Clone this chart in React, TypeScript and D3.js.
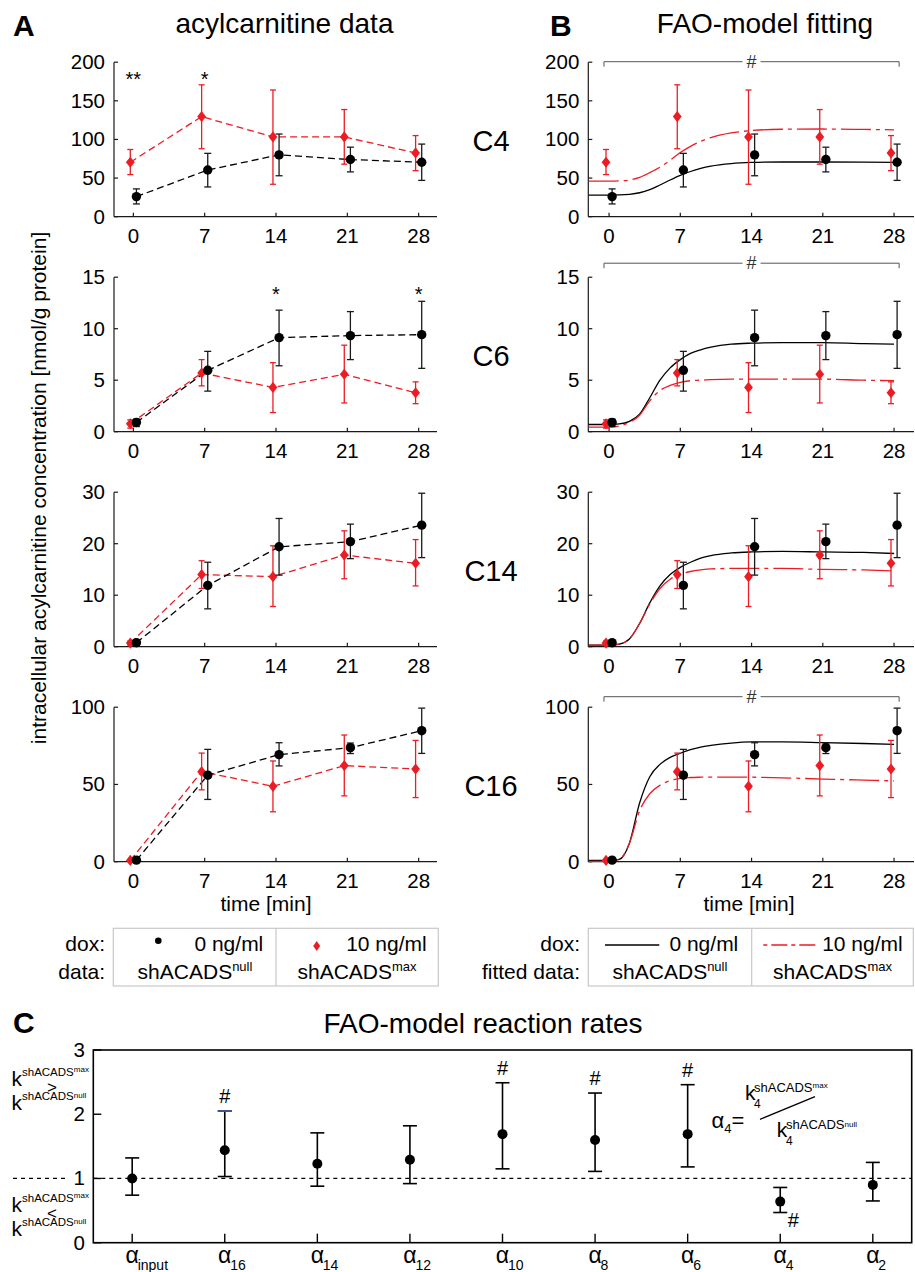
import React from 'react';
import * as d3 from 'd3';

const FONT = '"Liberation Sans", Arial, Helvetica, sans-serif';
const RED = '#ec1c24';
const INK = '#1a1a1a';

// sampling times [min]
const times = [0, 7, 14, 21, 28];
const xTicks = [0, 7, 14, 21, 28];
const species = ['C4', 'C6', 'C14', 'C16'];
const yTicks = [[0, 50, 100, 150, 200], [0, 5, 10, 15], [0, 10, 20, 30], [0, 50, 100]];

// shACADS null (dox 0 ng/ml): mean, lower and upper error
const c4Null = [26, 60.5, 80, 74, 70.5];
const c4NullLo = [16.5, 38.5, 53, 58, 47];
const c4NullHi = [36, 82, 107, 90, 94];
const c6Null = [0.9, 5.96, 9.13, 9.33, 9.42];
const c6NullLo = [0.5, 3.94, 6.4, 7.0, 6.15];
const c6NullHi = [1.22, 7.8, 11.8, 11.66, 12.66];
const c14Null = [0.78, 11.9, 19.4, 20.4, 23.6];
const c14NullLo = [0.4, 7.35, 13.9, 17.1, 17.3];
const c14NullHi = [1.1, 16.4, 24.9, 23.8, 29.8];
const c16Null = [1.0, 56, 69.3, 73.8, 84.8];
const c16NullLo = [0.3, 40.3, 62, 70, 70.1];
const c16NullHi = [1.7, 72.7, 77, 76.8, 99.4];

// shACADS max (dox 10 ng/ml)
const c4Max = [70.5, 129.6, 103.3, 103.3, 82.5];
const c4MaxLo = [54.5, 88, 42, 68, 59.6];
const c4MaxHi = [87, 170.7, 164, 138.7, 105];
const c6Max = [0.77, 5.7, 4.3, 5.58, 3.78];
const c6MaxLo = [0.35, 4.45, 1.86, 2.79, 2.72];
const c6MaxHi = [1.15, 7.0, 6.7, 8.4, 4.84];
const c14Max = [0.7, 14.0, 13.6, 17.8, 16.2];
const c14MaxLo = [0.3, 11.3, 7.8, 13.2, 11.8];
const c14MaxHi = [1.1, 16.7, 19.6, 22.5, 20.8];
const c16Max = [0.8, 58.3, 48.8, 62.2, 60];
const c16MaxLo = [0.2, 46.5, 32.3, 42.6, 41.5];
const c16MaxHi = [1.4, 70.3, 65.2, 82, 78.5];

// significance marks in panel A
const c4Stars = [{ t: 0, s: '**' }, { t: 7, s: '*' }];
const c6Stars = [{ t: 14, s: '*' }, { t: 28, s: '*' }];

// fitted model curves (panel B)
const fitTimes = [-2, 0, 1, 2, 3, 4, 5, 6, 7, 8, 9, 10, 12, 14, 17, 21, 25, 28];
const c4FitNull = [28, 28, 28.2, 29, 31, 35, 41, 47.5, 53.5, 58.5, 62.5, 65.5, 68.8, 70.2, 70.8, 70.8, 70.6, 70.3];
const c4FitMax = [46, 46, 46.3, 47.5, 51, 57, 64, 73, 83, 91, 97.5, 102.5, 108.5, 111.5, 113.2, 113.5, 113, 112.5];
const c6FitNull = [0.7, 0.7, 0.75, 1.0, 1.7, 3.3, 5.0, 6.2, 7.0, 7.6, 7.95, 8.2, 8.5, 8.6, 8.65, 8.65, 8.55, 8.5];
const c6FitMax = [0.45, 0.45, 0.55, 0.9, 1.6, 3.0, 4.0, 4.5, 4.8, 4.95, 5.0, 5.05, 5.1, 5.1, 5.1, 5.1, 5.0, 4.95];
const c14FitNull = [0.3, 0.3, 0.5, 1.5, 4.5, 8.5, 11.8, 14, 15.4, 16.4, 17.2, 17.7, 18.2, 18.4, 18.5, 18.4, 18.3, 18.1];
const c14FitMax = [0.3, 0.3, 0.5, 1.5, 4.5, 8.3, 11.3, 13.1, 14.1, 14.6, 14.9, 15.1, 15.2, 15.2, 15.2, 15.0, 14.9, 14.7];
const c16FitNull = [0.8, 0.8, 1.5, 12, 38, 55, 63, 67.5, 70.2, 72.5, 74.2, 75.3, 76.8, 77.5, 77.6, 77.1, 76.5, 76];
const c16FitMax = [0.2, 0.3, 1.5, 12, 33, 44, 49.5, 52.5, 54, 54.5, 54.7, 54.8, 54.8, 54.7, 54.3, 53.5, 52.8, 52.3];
const fitSignificant = [true, true, false, true];

// panel C: reaction rate ratios
const rateNames = ['input', '16', '14', '12', '10', '8', '6', '4', '2'];
const rateMean = [1.0, 1.44, 1.23, 1.29, 1.69, 1.6, 1.69, 0.64, 0.9];
const rateLo = [0.74, 1.03, 0.88, 0.92, 1.15, 1.11, 1.18, 0.47, 0.65];
const rateHi = [1.32, 2.05, 1.71, 1.82, 2.49, 2.33, 2.46, 0.86, 1.25];
const rateSig = ['', 'above', '', '', 'above', 'above', 'above', 'below', ''];
const rateTicks = [0, 1, 2, 3];

const panels = [
  { name: 'C4', nul: [c4Null, c4NullLo, c4NullHi], max: [c4Max, c4MaxLo, c4MaxHi], fit: [c4FitNull, c4FitMax], stars: c4Stars },
  { name: 'C6', nul: [c6Null, c6NullLo, c6NullHi], max: [c6Max, c6MaxLo, c6MaxHi], fit: [c6FitNull, c6FitMax], stars: c6Stars },
  { name: 'C14', nul: [c14Null, c14NullLo, c14NullHi], max: [c14Max, c14MaxLo, c14MaxHi], fit: [c14FitNull, c14FitMax], stars: [] },
  { name: 'C16', nul: [c16Null, c16NullLo, c16NullHi], max: [c16Max, c16MaxLo, c16MaxHi], fit: [c16FitNull, c16FitMax], stars: [] },
];

// layout
const OFFSET = 0.3; // horizontal nudge of the two groups
const bracketGap = [0.5, 14, 0, 10.5];
const DASHDOT = '30,5,4,5';

const diamond = (cx: number, cy: number, w = 4.4, h = 5.6) =>
  `M${cx},${cy - h}L${cx + w},${cy}L${cx},${cy + h}L${cx - w},${cy}Z`;

function ErrBar({ x, lo, hi, color, cap = 3.5, width = 1.3 }: any) {
  return (
    <g stroke={color} strokeWidth={width}>
      <line x1={x} x2={x} y1={lo} y2={hi} />
      <line x1={x - cap} x2={x + cap} y1={lo} y2={lo} />
      <line x1={x - cap} x2={x + cap} y1={hi} y2={hi} />
    </g>
  );
}

function TimePanel({ idx, side }: { idx: number; side: 'A' | 'B' }) {
  const p = panels[idx];
  const ticks = yTicks[idx];
  const bottom = 216.7 + 215 * idx;
  const top = bottom - 154.5;
  const x = side === 'A'
    ? d3.scaleLinear().domain([-1.9, 29.8]).range([114, 437])
    : d3.scaleLinear().domain([-2.04, 29.96]).range([588.3, 914]);
  const y = d3.scaleLinear().domain([0, ticks[ticks.length - 1]]).range([bottom, top]);
  const x0 = x.range()[0];
  const x1 = x.range()[1];

  const lineGen = (off: number) => d3.line<number>().x((_, i) => x(times[i] + off)).y(d => y(d));
  const fitGen = d3.line<number>().x((_, i) => x(fitTimes[i])).y(d => y(d)).curve(d3.curveMonotoneX);

  const showFit = side === 'B';
  const bracket = showFit && fitSignificant[idx];
  const by = top - bracketGap[idx];
  const bx0 = x(-0.5);
  const bx1 = x(28.5);
  const bxm = (bx0 + bx1) / 2;

  return (
    <g>
      {/* axes */}
      <g stroke={INK} strokeWidth={1.2} fill="none">
        <line x1={x0} x2={x0} y1={top} y2={bottom} />
        <line x1={x0} x2={x1} y1={bottom} y2={bottom} />
        {ticks.map(t => <line key={'y' + t} x1={x0} x2={x0 + 4} y1={y(t)} y2={y(t)} />)}
        {xTicks.map(t => <line key={'x' + t} x1={x(t)} x2={x(t)} y1={bottom} y2={bottom - 4} />)}
      </g>
      <g fontFamily={FONT} fontSize={20.5} fill="#000">
        {ticks.map(t => (
          <text key={'yl' + t} x={x0 - 9} y={y(t) + 7} textAnchor="end">{t}</text>
        ))}
        {xTicks.map(t => (
          <text key={'xl' + t} x={x(t)} y={bottom + 26} textAnchor="middle">{t}</text>
        ))}
      </g>

      {/* data lines (A) or fitted curves (B) */}
      {!showFit && (
        <g fill="none" strokeWidth={1.3} strokeDasharray="7,4">
          <path d={lineGen(-OFFSET)(p.max[0]) || ''} stroke={RED} />
          <path d={lineGen(OFFSET)(p.nul[0]) || ''} stroke="#000" />
        </g>
      )}
      {showFit && (
        <g fill="none" strokeWidth={1.3}>
          <path d={fitGen(p.fit[0]) || ''} stroke="#000" />
          <path d={fitGen(p.fit[1]) || ''} stroke={RED} strokeDasharray={DASHDOT} />
        </g>
      )}

      {/* red: shACADS max */}
      {times.map((t, i) => (
        <g key={'m' + i}>
          <ErrBar x={x(t - OFFSET)} lo={y(p.max[1][i])} hi={y(p.max[2][i])} color={RED} cap={3} />
          <path d={diamond(x(t - OFFSET), y(p.max[0][i]))} fill={RED} />
        </g>
      ))}
      {/* black: shACADS null */}
      {times.map((t, i) => (
        <g key={'n' + i}>
          <ErrBar x={x(t + OFFSET)} lo={y(p.nul[1][i])} hi={y(p.nul[2][i])} color={INK} cap={3.5} />
          <circle cx={x(t + OFFSET)} cy={y(p.nul[0][i])} r={4.7} fill="#000" />
        </g>
      ))}

      {!showFit && p.stars.map(s => (
        <text key={'s' + s.t} x={x(s.t)} y={top + 24} textAnchor="middle" fontFamily={FONT} fontSize={20}>{s.s}</text>
      ))}

      {bracket && (
        <g>
          <g stroke="#555" strokeWidth={1} fill="none">
            <path d={`M${bx0},${by + 5}V${by}H${bxm - 9}`} />
            <path d={`M${bxm + 9},${by}H${bx1}V${by + 5}`} />
          </g>
          <text x={bxm} y={by + 6} textAnchor="middle" fontFamily={FONT} fontSize={18} fill="#333">#</text>
        </g>
      )}

      {side === 'A' && (
        <text x={491} y={bottom - 66} textAnchor="middle" fontFamily={FONT} fontSize={29}>{p.name}</text>
      )}
    </g>
  );
}

function Legend({ side }: { side: 'A' | 'B' }) {
  const L = side === 'A'
    ? { x0: 113.3, mid: 276, x1: 438.3, lab: 105, row2: 'data:', c1: 195, c2: 357, t1: 263.3, t2: 426.7 }
    : { x0: 588.3, mid: 751.7, x1: 913.3, lab: 580, row2: 'fitted data:', c1: 670, c2: 832.5, t1: 738.3, t2: 902.7 };
  const y0 = 928.3;
  const y1 = 986;
  return (
    <g fontFamily={FONT} fontSize={21}>
      <rect x={L.x0} y={y0} width={L.x1 - L.x0} height={y1 - y0} fill="none" stroke="#c8c8c8" strokeWidth={1.2} />
      <line x1={L.mid} x2={L.mid} y1={y0} y2={y1} stroke="#c8c8c8" strokeWidth={1.2} />
      <text x={L.lab} y={951} textAnchor="end">dox:</text>
      <text x={L.lab} y={978.5} textAnchor="end">{L.row2}</text>
      <text x={L.t1} y={951} textAnchor="end">0 ng/ml</text>
      <text x={L.t2} y={951} textAnchor="end">10 ng/ml</text>
      <text x={L.c1} y={978.5} textAnchor="middle">shACADS<tspan fontSize={13} dy={-8}>null</tspan></text>
      <text x={L.c2} y={978.5} textAnchor="middle">shACADS<tspan fontSize={13} dy={-8}>max</tspan></text>
      {side === 'A' ? (
        <g>
          <circle cx={158.3} cy={940.7} r={3.3} fill="#000" />
          <path d={diamond(316.7, 946, 3.5, 5)} fill={RED} />
        </g>
      ) : (
        <g strokeWidth={1.3}>
          <line x1={605} x2={659.3} y1={945} y2={945} stroke="#000" />
          <line x1={763.3} x2={818.3} y1={945} y2={945} stroke={RED} strokeDasharray="4,4,16,4" />
        </g>
      )}
    </g>
  );
}

function RatePanel() {
  const left = 93.3, right = 911.7, top = 1050, bottom = 1242.7;
  const x = d3.scalePoint<string>().domain(rateNames).range([left, right]).padding(0.42);
  const y = d3.scaleLinear().domain([0, 3]).range([bottom, top]);
  return (
    <g fontFamily={FONT}>
      <text x={13} y={1033} fontSize={30} fontWeight="bold">C</text>
      <text x={483} y={1033} fontSize={28} textAnchor="middle">FAO-model reaction rates</text>

      <g stroke="#000" strokeWidth={1.3} strokeDasharray="4,4">
        <line x1={13} x2={68} y1={y(1)} y2={y(1)} />
        <line x1={left} x2={right} y1={y(1)} y2={y(1)} />
      </g>
      <rect x={left} y={top} width={right - left} height={bottom - top} fill="none" stroke="#000" strokeWidth={1.6} />
      <g stroke="#000" strokeWidth={1.4}>
        {rateTicks.map(t => <line key={'t' + t} x1={left} x2={left + 8} y1={y(t)} y2={y(t)} />)}
        {rateNames.map(n => <line key={'x' + n} x1={x(n)} x2={x(n)} y1={bottom} y2={bottom - 9} />)}
      </g>
      {rateTicks.map(t => (
        <text key={'l' + t} x={85} y={y(t) + 7} fontSize={20.5} textAnchor="end">{t}</text>
      ))}
      {rateNames.map(n => (
        <g key={'a' + n}>
          <text x={(x(n) as number)} y={1263} fontSize={23} textAnchor="middle">α</text>
          <text x={(x(n) as number) + 5.5} y={1270} fontSize={14}>{n}</text>
        </g>
      ))}

      {rateNames.map((n, i) => {
        const cx = x(n) as number;
        return (
          <g key={'r' + n}>
            <ErrBar x={cx} lo={y(rateLo[i])} hi={y(rateHi[i])} color="#000" cap={7} width={1.6} />
            {i === 1 && <line x1={cx - 7} x2={cx + 7} y1={y(rateHi[i])} y2={y(rateHi[i])} stroke="#3a5c9a" strokeWidth={1.8} />}
            <circle cx={cx} cy={y(rateMean[i])} r={5} fill="#000" />
            {rateSig[i] === 'above' && (
              <text x={cx} y={y(rateHi[i]) - 8} fontSize={20} textAnchor="middle">#</text>
            )}
            {rateSig[i] === 'below' && (
              <text x={cx + 13} y={y(rateLo[i]) + 14} fontSize={20} textAnchor="middle">#</text>
            )}
          </g>
        );
      })}

      {/* y-side annotations */}
      <g>
        <text x={11.5} y={1086} fontSize={21}>k<tspan fontSize={11.5} dy={-10}>shACADS</tspan><tspan fontSize={8} dy={-4}>max</tspan></text>
        <text x={52} y={1093} fontSize={17} textAnchor="middle">&gt;</text>
        <text x={11.5} y={1110} fontSize={21}>k<tspan fontSize={11.5} dy={-10}>shACADS</tspan><tspan fontSize={8} dy={-2}>null</tspan></text>
        <text x={11.5} y={1212} fontSize={21}>k<tspan fontSize={11.5} dy={-10}>shACADS</tspan><tspan fontSize={8} dy={-4}>max</tspan></text>
        <text x={52} y={1219} fontSize={17} textAnchor="middle">&lt;</text>
        <text x={11.5} y={1236} fontSize={21}>k<tspan fontSize={11.5} dy={-10}>shACADS</tspan><tspan fontSize={8} dy={-2}>null</tspan></text>
      </g>

      {/* alpha_4 definition */}
      <g>
        <text x={711.5} y={1128.3} fontSize={22}>α<tspan fontSize={13} dy={5}>4</tspan><tspan fontSize={22} dy={-5}>=</tspan></text>
        <text x={745} y={1100} fontSize={21}>k</text>
        <text x={754} y={1091.5} fontSize={13}>shACADS<tspan fontSize={8} dy={-4}>max</tspan></text>
        <text x={754} y={1108} fontSize={12}>4</text>
        <line x1={760} y1={1119.3} x2={815} y2={1096.7} stroke="#000" strokeWidth={1.3} />
        <text x={776.7} y={1137} fontSize={21}>k</text>
        <text x={786} y={1129} fontSize={13}>shACADS<tspan fontSize={8} dy={-2}>null</tspan></text>
        <text x={786} y={1145} fontSize={12}>4</text>
      </g>
    </g>
  );
}

export default function App() {
  return (
    <svg width={915} height={1272} viewBox="0 0 915 1272"
      style={{ position: 'absolute', left: 0, top: 0, background: '#fff' }}>
      <rect width={915} height={1272} fill="#fff" />
      <g fontFamily={FONT}>
        <text x={13} y={36} fontSize={30} fontWeight="bold">A</text>
        <text x={284.5} y={32.5} fontSize={28} textAnchor="middle">acylcarnitine data</text>
        <text x={550} y={36} fontSize={30} fontWeight="bold">B</text>
        <text x={765} y={32.5} fontSize={28} textAnchor="middle">FAO-model fitting</text>
        <text transform="translate(46,488) rotate(-90)" fontSize={21} textAnchor="middle">
          intracellular acylcarnitine concentration [nmol/g protein]
        </text>
        <text x={266} y={910.7} fontSize={21} textAnchor="middle">time [min]</text>
        <text x={749} y={910.7} fontSize={21} textAnchor="middle">time [min]</text>
      </g>
      {species.map((s, i) => (
        <g key={s}>
          <TimePanel idx={i} side="A" />
          <TimePanel idx={i} side="B" />
        </g>
      ))}
      <Legend side="A" />
      <Legend side="B" />
      <RatePanel />
    </svg>
  );
}
